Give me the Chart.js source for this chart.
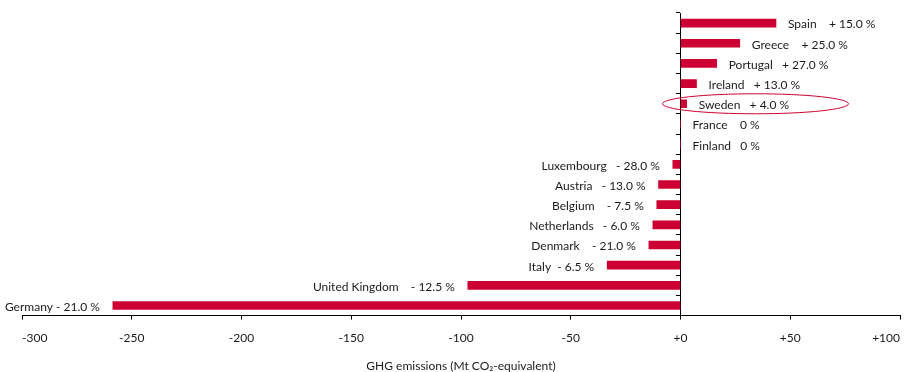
<!DOCTYPE html>
<html>
<head>
<meta charset="utf-8">
<script src="https://cdn.jsdelivr.net/npm/chart.js@4.4.1/dist/chart.umd.min.js"></script>
<style>
  html, body { margin: 0; padding: 0; background: #fff; }
  canvas { display: block; }
</style>
</head>
<body>
<canvas id="c" width="905" height="372"></canvas>
<script>
// ---- data ----
const categories = ['Spain', 'Greece', 'Portugal', 'Ireland', 'Sweden', 'France', 'Finland',
  'Luxembourg', 'Austria', 'Belgium', 'Netherlands', 'Denmark', 'Italy', 'United Kingdom', 'Germany'];
const changeMt = [43.5, 27, 16.5, 7.3, 2.8, 0, 0, -3.5, -10, -10.8, -12.6, -14.4, -33.4, -96.9, -258.6];
const changePct = ['+ 15.0 %', '+ 25.0 %', '+ 27.0 %', '+ 13.0 %', '+ 4.0 %', '0 %', '0 %',
  '- 28.0 %', '- 13.0 %', '- 7.5 %', '- 6.0 %', '- 21.0 %', '- 6.5 %', '- 12.5 %', '- 21.0 %'];
const labelSeparators = ['    ', '    ', '   ', '   ', '   ', '    ', '   ',
  '   ', '   ', '    ', '   ', '    ', '  ', '    ', ' '];
const xTickLabels = ['-300', '-250', '-200', '-150', '-100', '-50', '+0', '+50', '+100'];
const highlighted = 'Sweden';
const axisTitle = 'GHG emissions (Mt CO\u2082-equivalent)';

const FONT = 'Lato, "Open Sans", sans-serif';
const RED = '#cc0033';
const TEXT = '#1a1a1a';

const barLabels = {
  id: 'barLabels',
  afterDatasetsDraw(chart) {
    const ctx = chart.ctx;
    const meta = chart.getDatasetMeta(0);
    const xs = chart.scales.x;
    ctx.save();
    ctx.font = '12px ' + FONT;
    ctx.fillStyle = TEXT;
    ctx.textBaseline = 'middle';
    meta.data.forEach((bar, i) => {
      const v = changeMt[i];
      const txt = categories[i] + labelSeparators[i] + changePct[i];
      if (v >= 0) {
        ctx.textAlign = 'left';
        ctx.fillText(txt, bar.x + 12, bar.y + 1.5);
      } else {
        ctx.textAlign = 'right';
        ctx.fillText(txt, bar.x - 13, bar.y + 1.5);
      }
      if (categories[i] === highlighted) {
        const cx = xs.getPixelForValue(0) + 75;
        ctx.beginPath();
        ctx.ellipse(cx, bar.y, 93, 10, 0, 0, Math.PI * 2);
        ctx.strokeStyle = RED;
        ctx.lineWidth = 1;
        ctx.stroke();
      }
    });
    ctx.restore();
  }
};

new Chart(document.getElementById('c'), {
  type: 'bar',
  data: {
    labels: categories,
    datasets: [{
      data: changeMt,
      backgroundColor: RED,
      borderWidth: 0,
      barThickness: 8
    }]
  },
  options: {
    indexAxis: 'y',
    responsive: false,
    animation: false,
    layout: { padding: { top: 13, left: 22, right: 5, bottom: 0 } },
    plugins: { legend: { display: false }, tooltip: { enabled: false } },
    scales: {
      x: {
        min: -300, max: 100,
        position: 'bottom',
        afterFit(s) { s.paddingLeft = 0; s.paddingRight = 0; },
        ticks: {
          stepSize: 50, autoSkip: false, maxRotation: 0, align: 'inner',
          padding: 11, color: TEXT, font: { family: FONT, size: 12 },
          callback: (v, i) => xTickLabels[i]
        },
        grid: { drawOnChartArea: false, tickLength: 4, color: '#000' },
        border: { color: '#000', width: 1 },
        title: { display: true, text: axisTitle, color: TEXT, font: { family: FONT, size: 12, lineHeight: 1 }, padding: { top: 4, bottom: 0 } }
      },
      y: {
        position: { x: 0 },
        ticks: { display: false },
        grid: { drawOnChartArea: false, tickLength: 4, color: '#000', offset: true },
        border: { color: '#000', width: 1 }
      }
    }
  },
  plugins: [barLabels]
});
</script>
</body>
</html>
